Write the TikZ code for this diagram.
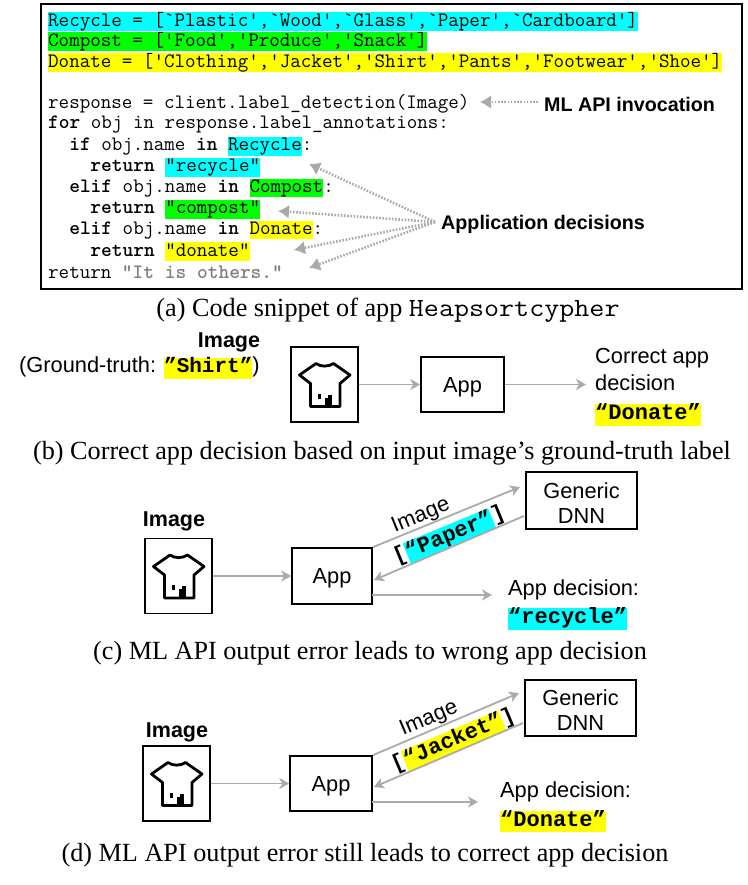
\documentclass[tikz,border=0pt]{standalone}
\usepackage{fontspec,graphicx}
\setmainfont{Liberation Serif}
\setsansfont{Liberation Sans}
\newfontfamily\decfont{Liberation Mono}
\usetikzlibrary{arrows.meta,positioning}
\definecolor{hlcyan}{RGB}{0,255,255}
\definecolor{hlgreen}{RGB}{0,255,0}
\definecolor{hlyellow}{RGB}{255,255,0}
\definecolor{arrowgray}{RGB}{170,170,170}
\newcommand{\hlcode}[2]{{\fboxsep=0pt\colorbox{#1}{\rule[-4.5pt]{0pt}{18pt}#2}}}
\newcommand{\hldec}[2]{{\fboxsep=0pt\colorbox{#1}{\rule[-6pt]{0pt}{21pt}#2}}}
\newcommand{\kw}[1]{\textbf{#1}}
\newcommand{\lowered}{\rule{0pt}{20.5pt}}
\tikzset{
  codeline/.style={anchor=west,inner sep=0pt,font=\ttfamily\fontsize{20.45}{20.45}\selectfont},
  sanslabel/.style={inner sep=0pt,font=\sffamily\fontsize{21.8}{25}\selectfont,align=center},
  boldlabel/.style={inner sep=0pt,font=\sffamily\bfseries\fontsize{21.5}{24}\selectfont},
  notelabel/.style={inner sep=0pt,font=\sffamily\bfseries\fontsize{19.7}{24}\selectfont},
  declabel/.style={inner sep=0pt,font=\decfont\bfseries\fontsize{22}{22}\selectfont},
  caption/.style={inner sep=0pt,font=\rmfamily\fontsize{26.2}{26.2}\selectfont},
  block/.style={draw,line width=1.6pt,inner sep=0pt},
  flow/.style={draw=arrowgray,line width=1.8pt,-{Stealth[length=10pt,width=11pt,inset=3pt]}},
  dotflow/.style={draw=arrowgray,line width=2.6pt,dash pattern=on 1.6pt off 1.6pt,-{Latex[length=11pt,width=14pt]}},
  tshirt/.pic={
    \draw[line width=2.8pt,line join=round] (-8.5,-21) .. controls (-4,-17.5) and (4,-17.5) .. (9,-21)
      -- (25.5,-9.5) -- (15.5,-1) -- (15.5,22) -- (-14,22) -- (-14,-1) -- (-25,-9.5) -- cycle;
    \fill (-7,9) rectangle (-4,14);
    \fill (0.5,13) rectangle (7,21);
    \fill (3.5,10) rectangle (7,21);
  }
}

\begin{document}
\begin{tikzpicture}[x=1pt,y=-1pt]
  \useasboundingbox (0,0) rectangle (747,885);

  % code snippet
  \node[draw,line width=2pt,minimum width=701pt,minimum height=285pt,anchor=north west] (codebox) at (40,3) {};
  \node[codeline] (line1) at (48,21.5) {\hlcode{hlcyan}{Recycle = [`Plastic',`Wood',`Glass',`Paper',`Cardboard']}};
  \node[codeline] (line2) at (48,41.5) {\hlcode{hlgreen}{Compost = ['Food','Produce','Snack']}};
  \node[codeline] (line3) at (48,62.5) {\hlcode{hlyellow}{Donate = ['Clothing','Jacket','Shirt','Pants','Footwear','Shoe']}};
  \node[codeline] (line4) at (48,103.5) {response = client.label\_detection(Image)};
  \node[codeline] (line5) at (48,124.5) {\kw{for} obj in response.label\_annotations:};
  \node[codeline] (line6) at (48,146.5) {\ \ \kw{if} obj.name \kw{in} \hlcode{hlcyan}{Recycle}:};
  \node[codeline] (line7) at (48,167.5) {\ \ \ \ \kw{return} \hlcode{hlcyan}{”recycle”}};
  \node[codeline] (line8) at (48,188.5) {\ \ \kw{elif} obj.name \kw{in} \hlcode{hlgreen}{Compost}:};
  \node[codeline] (line9) at (48,209.5) {\ \ \ \ \kw{return} \hlcode{hlgreen}{“compost”}};
  \node[codeline] (line10) at (48,230.5) {\ \ \kw{elif} obj.name \kw{in} \hlcode{hlyellow}{Donate}:};
  \node[codeline] (line11) at (48,251.5) {\ \ \ \ \kw{return} \hlcode{hlyellow}{“donate”}};
  \node[codeline] (line12) at (48,272.5) {return \textcolor{gray}{\kw{“It is others.”}}};

  \node[notelabel,anchor=west] (mlapi) at (544,104) {ML API invocation};
  \coordinate (mlapiend) at (480,102);
  \draw[dotflow] (mlapi.west) ++(-6,-2) -- (mlapiend);

  \node[notelabel,anchor=west] (appdec) at (441,224) {Application decisions};
  \coordinate (dec1) at (309,164);
  \coordinate (dec2) at (278,211);
  \coordinate (dec3) at (294,250);
  \coordinate (dec4) at (309,268);
  \foreach \to in {dec1,dec2,dec3,dec4}
  \draw[dotflow] (appdec.west) ++(-6,-2) -- (\to);

  \node[caption] (capa) at (388,310.5) {(a) Code snippet of app {\ttfamily\scalebox{1.115}[1]{Heapsortcypher}}};

  % correct decision
  \node[boldlabel] (imglabelb) at (229,342) {Image};
  \node[sanslabel,anchor=west] (truth) at (19,368) {(Ground-truth: \hldec{hlyellow}{\decfont\bfseries\fontsize{21}{21}\selectfont ”Shirt”})};
  \node[block,minimum width=67pt,minimum height=75pt] (imgb) at (324.5,384.5) {};
  \pic at (imgb) {tshirt};
  \node[block,sanslabel,minimum width=83pt,minimum height=55pt] (appb) at (462.5,384.5) {\lowered App};
  \node[sanslabel,anchor=north west,align=left] (corrdec) at (595,348) {Correct app\\[2pt]decision};
  \node[declabel,anchor=west] (donateb) at (595,415) {\hldec{hlyellow}{“Donate”}};
  \coordinate (corrdecin) at (586,384.5);
  \draw[flow] (imgb) -- (appb);
  \draw[flow] (appb) -- (corrdecin);
  \node[caption] (capb) at (382,453) {(b) Correct app decision based on input image’s ground-truth label};

  % wrong decision
  \node[boldlabel] (imglabelc) at (174,521) {Image};
  \node[block,minimum width=67pt,minimum height=75pt] (imgc) at (178.5,576) {};
  \pic at (imgc) {tshirt};
  \node[block,sanslabel,minimum width=80pt,minimum height=56pt] (appc) at (332,576) {\lowered App};
  \node[block,sanslabel,minimum width=111pt,minimum height=57pt] (dnnc) at (581.5,500.5) {\lowered Generic\\DNN};
  \node[sanslabel,rotate=22.4] (sendc) at (421,516) {Image};
  \node[declabel,rotate=22.4] (resultc) at (449.5,536) {[\hldec{hlcyan}{“Paper”}]};
  \node[sanslabel,anchor=west] (decc) at (508,590) {App decision:};
  \node[declabel,anchor=west] (recycle) at (508,619) {\hldec{hlcyan}{“recycle”}};
  \coordinate (dnncin) at (520,487);
  \coordinate (dnncout) at (524,516);
  \coordinate (appcin) at (374,580);
  \coordinate (appcout) at (372,595);
  \coordinate (deccin) at (492,595);
  \draw[flow] (imgc) -- (appc);
  \draw[flow] (appc.north east) -- (dnncin);
  \draw[flow] (dnncout) -- (appcin);
  \draw[flow] (appcout) -- (deccin);
  \node[caption] (capc) at (370,653) {(c) ML API output error leads to wrong app decision};

  % still correct decision
  \node[boldlabel] (imglabeld) at (177,732) {Image};
  \node[block,minimum width=67pt,minimum height=75pt] (imgd) at (176.5,783.5) {};
  \pic at (imgd) {tshirt};
  \node[block,sanslabel,minimum width=82pt,minimum height=55pt] (appd) at (331,783.5) {\lowered App};
  \node[block,sanslabel,minimum width=111pt,minimum height=56pt] (dnnd) at (580.5,708) {\lowered Generic\\DNN};
  \node[sanslabel,rotate=22.9] (sendd) at (429,719) {Image};
  \node[declabel,rotate=22.9] (resultd) at (453.5,741) {[\hldec{hlyellow}{“Jacket”}]};
  \node[sanslabel,anchor=west] (decd) at (500,792) {App decision:};
  \node[declabel,anchor=west] (donated) at (500,821.5) {\hldec{hlyellow}{“Donate”}};
  \coordinate (dnndin) at (519,693);
  \coordinate (dnndout) at (523,723);
  \coordinate (appdin) at (374,787);
  \coordinate (appdout) at (372,802);
  \coordinate (deccdin) at (478,802);
  \draw[flow] (imgd) -- (appd);
  \draw[flow] (appd.north east) -- (dnndin);
  \draw[flow] (dnndout) -- (appdin);
  \draw[flow] (appdout) -- (deccdin);
  \node[caption] (capd) at (365,855) {(d) ML API output error still leads to correct app decision};
\end{tikzpicture}
\end{document}
